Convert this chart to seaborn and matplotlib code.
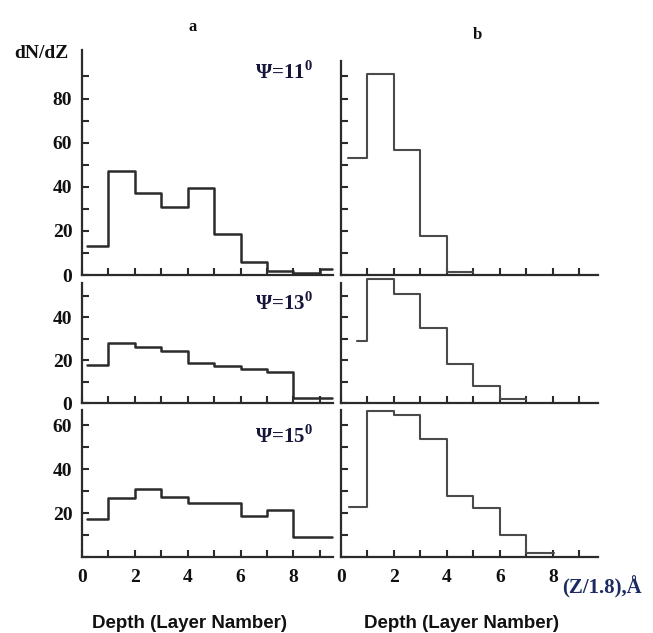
import numpy as np
import matplotlib
matplotlib.use("Agg")
import matplotlib.pyplot as plt
import seaborn as sns

# bin edges (layer number) and dN/dZ heights
edges_a11 = [0.2, 1, 2, 3, 4, 5, 6, 7, 8, 9, 9.45]
dndz_a11 = [13, 47, 37, 31, 39.5, 18.5, 6, 2, 1, 2.5]
edges_a13 = [0.2, 1, 2, 3, 4, 5, 6, 7, 8, 9.45]
dndz_a13 = [17.7, 28, 26.2, 24.3, 18.6, 17.2, 16, 14.6, 2.5]
edges_a15 = [0.2, 1, 2, 3, 4, 5, 6, 7, 8, 9.45]
dndz_a15 = [17.5, 27, 31, 27.5, 24.5, 24.5, 18.5, 21.5, 9.2]

edges_b11 = [0.25, 1, 2, 3, 4, 5]
dndz_b11 = [53, 91, 56.5, 17.5, 1.3]
edges_b13 = [0.6, 1, 2, 3, 4, 5, 6, 7]
dndz_b13 = [28.8, 57.8, 51, 34.9, 18.3, 8, 2]
edges_b15 = [0.3, 1, 2, 3, 4, 5, 6, 7, 8.05]
dndz_b15 = [23, 66.5, 64.5, 54, 28, 22.5, 10, 2]

angles = ["11", "13", "15"]
ylims = [102, 56, 67]
ytop_tick = [90, 50, 60]
ylabels_shown = [[0, 20, 40, 60, 80], [0, 20, 40], [20, 40, 60]]

sns.set_style("ticks")
serif = ["Liberation Serif", "DejaVu Serif"]
plt.rcParams["mathtext.fontset"] = "custom"
plt.rcParams["mathtext.rm"] = "Liberation Serif"
plt.rcParams["mathtext.bf"] = "Liberation Serif:bold"

W, H = 653, 633
fig = plt.figure(figsize=(W / 100, H / 100), dpi=100)
fig.patch.set_facecolor("white")


def rect(left, top, right, bottom):
    return [left / W, 1 - bottom / H, (right - left) / W, (bottom - top) / H]


rows_px = [(50, 275), (283, 403), (410, 557)]
cols_px = [(82, 333, 9.5), (341, 598, 9.7)]
data_a = [(edges_a11, dndz_a11), (edges_a13, dndz_a13), (edges_a15, dndz_a15)]
data_b = [(edges_b11, dndz_b11), (edges_b13, dndz_b13), (edges_b15, dndz_b15)]
psi_y = [0.90, 0.83, 0.82]
txt_col = "#16163a"

for r, (top, bot) in enumerate(rows_px):
    for c, (left, right, xmax) in enumerate(cols_px):
        ax = fig.add_axes(rect(left, top, right, bot))
        edges, vals = (data_a if c == 0 else data_b)[r]
        centers = [(edges[i] + edges[i + 1]) / 2 for i in range(len(vals))]
        sns.histplot(x=centers, weights=vals, bins=edges, element="step",
                     fill=False, color="#2b2b2b" if c == 0 else "#4a4a4a",
                     linewidth=1.8 if c == 0 else 1.5, ax=ax)
        for ln in ax.lines:
            ln.set_clip_on(False)
        ax.set_xlim(0, xmax)
        ax.set_ylim(0, ylims[r])
        ax.set_xlabel("")
        ax.set_ylabel("")
        sns.despine(ax=ax)
        for s in ["left", "bottom"]:
            ax.spines[s].set_linewidth(1.6)
            ax.spines[s].set_color("#2b2b2b")
        if c == 1 and r == 0:
            ax.spines["left"].set_bounds(0, 97)

        ax.set_xticks(range(0, 10))
        if r == 2:
            ax.set_xticklabels([str(v) if v % 2 == 0 else "" for v in range(10)],
                               family=serif, fontweight="bold", fontsize=14,
                               color="#111111")
        else:
            ax.set_xticklabels([])

        yt = list(range(0, ytop_tick[r] + 1, 10))
        ax.set_yticks(yt)
        if c == 0:
            ax.set_yticklabels([str(v) if v in ylabels_shown[r] else "" for v in yt],
                               family=serif, fontweight="bold", fontsize=14,
                               color="#111111")
        else:
            ax.set_yticklabels([])
        ax.tick_params(direction="in", length=5, width=1.5, color="#2b2b2b",
                       pad=7)
        ax.tick_params(axis="x", pad=9)

        if c == 0:
            ax.text(0.92, psi_y[r], "Ψ=" + angles[r] + r"$^{\mathbf{0}}$",
                    transform=ax.transAxes, ha="right", va="center",
                    family=serif, fontweight="bold", fontsize=15, color=txt_col)

fig.text(193 / W, 1 - 27 / H, "a", family=serif, fontweight="bold",
         fontsize=12, ha="center", va="center", color="#111111")
fig.text(477 / W, 1 - 35 / H, "b", family=serif, fontweight="bold",
         fontsize=12, ha="center", va="center", color="#111111")
fig.text(41 / W, 1 - 53 / H, "dN/dZ", family=serif, fontweight="bold",
         fontsize=14, ha="center", va="center", color="#111111")
fig.text(562 / W, 1 - 587 / H, "(Z/1.8),Å", family=serif, fontweight="bold",
         fontsize=15, ha="left", va="center", color="#1c2c62")
for xc in [190, 462]:
    fig.text(xc / W, 1 - 624 / H, "Depth (Layer Namber)",
             family=["Liberation Sans", "DejaVu Sans"], fontweight="bold",
             fontsize=13.5, ha="center", va="center", color="#111111")

fig.savefig("out.png", dpi=100, facecolor="white")
